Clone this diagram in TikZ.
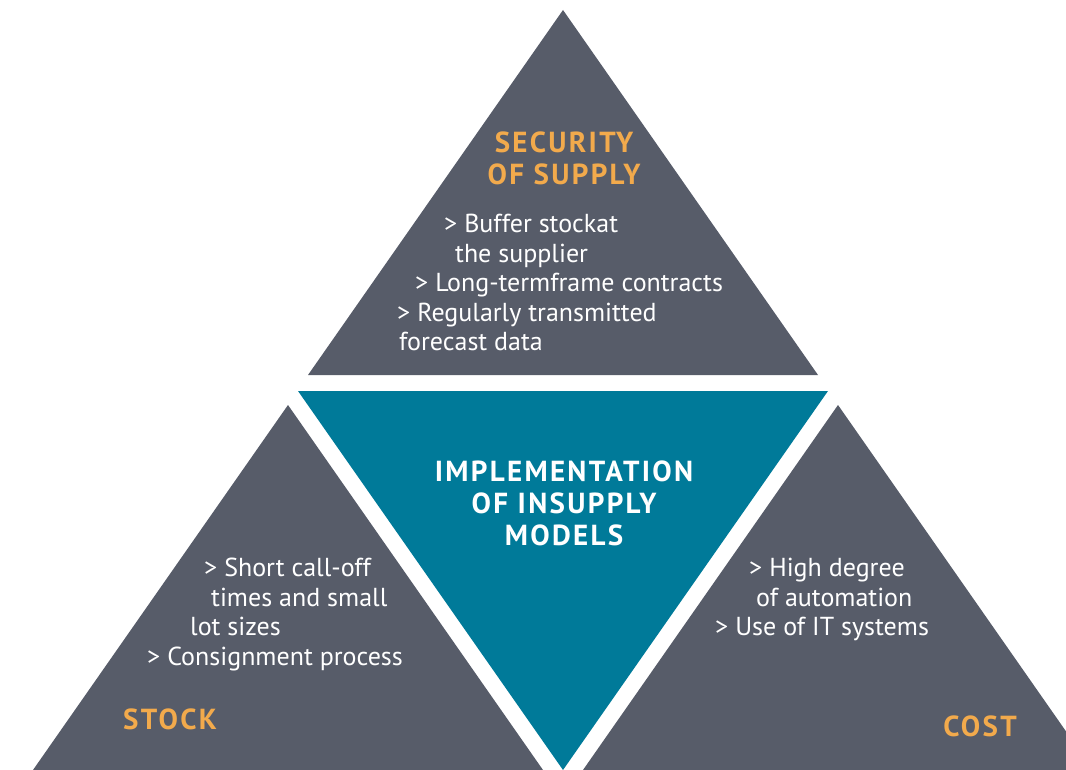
\documentclass[tikz,border=0pt]{standalone}
\usepackage{fontspec}
\setmainfont{PT Sans}
\newfontfamily\headfont{PT Sans}[LetterSpace=8]
\usetikzlibrary{positioning}
\definecolor{slate}{HTML}{575C69}
\definecolor{petrol}{HTML}{007A99}
\definecolor{amber}{HTML}{F2AA4C}

\begin{document}
\begin{tikzpicture}[x=1pt,y=-1pt,every node/.style={inner sep=0pt},
    corner/.style={fill=slate},
    core/.style={fill=petrol},
    head/.style={font=\headfont\bfseries\fontsize{29}{32}\selectfont,text=amber,align=center},
    items/.style={font=\fontsize{26}{29.5}\selectfont,text=white,align=left,anchor=north west}]
    \useasboundingbox (0,0) rectangle (1066,770);
    \clip (0,0) rectangle (1066,770);
    % the three outer triangles and the turned one in the middle
    \fill[corner] (563,10) -- (818,375) -- (308,375) -- cycle;
    \fill[core] (298,391) -- (828,391) -- (563,770) -- cycle;
    \fill[corner] (288,405) -- (543,770) -- (33,770) -- cycle;
    \fill[corner] (838,405) -- (1093,770) -- (583,770) -- cycle;
    % top: security of supply
    \node[head] (supply) at (564,158) {SECURITY\\OF SUPPLY};
    \node[items] (supplyitems) at (397,214) {\hspace*{47pt}> Buffer stockat\\
      \hspace*{58pt}the supplier\\
      \hspace*{18pt}> Long-termframe contracts\\
      > Regularly transmitted\\
      \hspace*{2pt}forecast data};
    % centre
    \node[head,text=white] (models) at (564,503) {IMPLEMENTATION\\OF INSUPPLY\\MODELS};
    % left: stock
    \node[items] (stockitems) at (147,558) {\hspace*{57pt}> Short call-off\\
      \hspace*{64pt}times and small\\
      \hspace*{43pt}lot sizes\\
      > Consignment process};
    \node[head] (stock) at (170,719) {STOCK};
    % right: cost
    \node[items] (costitems) at (715,558) {\hspace*{34pt}> High degree\\
      \hspace*{41pt}of automation\\
      > Use of IT systems};
    \node[head] (cost) at (980,726) {COST};
\end{tikzpicture}
\end{document}
